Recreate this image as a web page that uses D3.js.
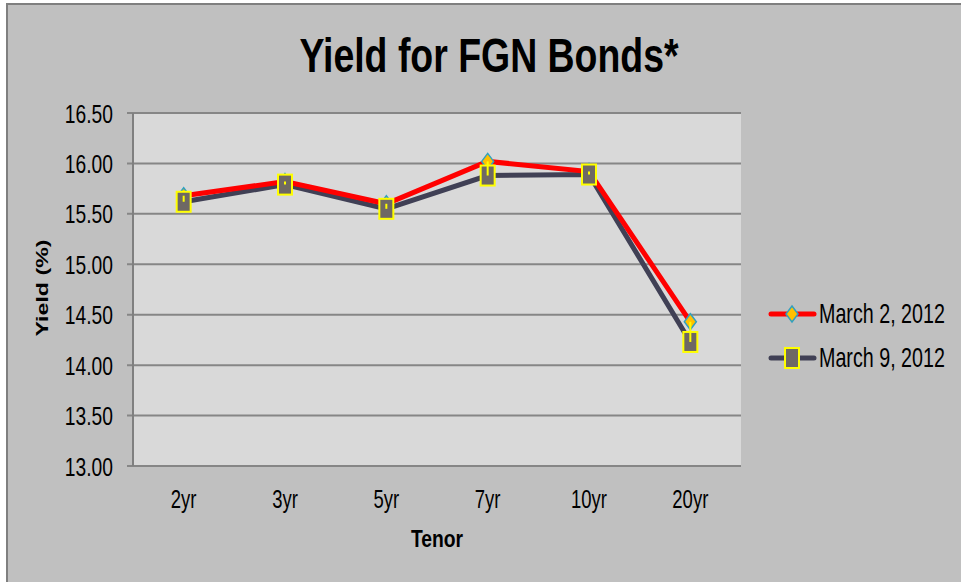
<!DOCTYPE html>
<html>
<head>
<meta charset="utf-8">
<script src="https://cdn.jsdelivr.net/npm/d3@7"></script>
<style>
  body { margin: 0; background: #fff; }
  text { font-family: "Liberation Sans Narrow", "Liberation Sans", Arial, sans-serif; fill: #000; }
</style>
</head>
<body>
<svg width="961" height="582"></svg>
<script>
var tenors = ['2yr', '3yr', '5yr', '7yr', '10yr', '20yr']
var march2 = [15.68, 15.82, 15.60, 16.02, 15.92, 14.43]
var march9 = [15.62, 15.79, 15.55, 15.88, 15.89, 14.23]
var yTicks = [13.00, 13.50, 14.00, 14.50, 15.00, 15.50, 16.00, 16.50]
var seriesNames = ['March 2, 2012', 'March 9, 2012']

var svg = d3.select('svg')

var plotL = 133, plotR = 741, plotT = 113, plotB = 466

var x = d3.scaleBand().domain(tenors).range([plotL, plotR])
var y = d3.scaleLinear().domain([13, 16.5]).range([plotB, plotT])
var cx = function (d, i) { return x(tenors[i]) + x.bandwidth() / 2 }

// chart area
svg.append('rect')
  .attr('x', 7).attr('y', 4).attr('width', 970).attr('height', 600)
  .attr('fill', '#c0c0c0').attr('stroke', '#7f7f7f').attr('stroke-width', 2)

svg.append('rect')
  .attr('x', plotL).attr('y', plotT).attr('width', plotR - plotL).attr('height', plotB - plotT)
  .attr('fill', '#d9d9d9')

// gridlines
svg.append('g').selectAll('line')
  .data(yTicks)
  .enter().append('line')
  .attr('x1', plotL - 6).attr('x2', plotR)
  .attr('y1', function (d) { return y(d) }).attr('y2', function (d) { return y(d) })
  .attr('stroke', '#868686').attr('stroke-width', 2)

svg.append('line')
  .attr('x1', plotL).attr('x2', plotL).attr('y1', plotT).attr('y2', plotB)
  .attr('stroke', '#808080').attr('stroke-width', 2)

svg.append('g').selectAll('text')
  .data(yTicks)
  .enter().append('text')
  .attr('transform', function (d) { return 'translate(' + (plotL - 20) + ',' + (y(d) + 9.5) + ') scale(0.74,1)' })
  .attr('text-anchor', 'end').attr('font-size', 26)
  .text(function (d) { return d3.format('.2f')(d) })

svg.append('g').selectAll('text')
  .data(tenors)
  .enter().append('text')
  .attr('transform', function (d) { return 'translate(' + (x(d) + x.bandwidth() / 2) + ',508) scale(0.74,1)' })
  .attr('text-anchor', 'middle').attr('font-size', 25)
  .text(function (d) { return d })

// titles
svg.append('text')
  .attr('transform', 'translate(489,72) scale(0.78,1)').attr('text-anchor', 'middle')
  .attr('font-size', 48).attr('font-weight', 'bold')
  .text('Yield for FGN Bonds*')

svg.append('text')
  .attr('transform', 'translate(437,547) scale(0.84,1)').attr('text-anchor', 'middle')
  .attr('font-size', 23).attr('font-weight', 'bold')
  .text('Tenor')

svg.append('text')
  .attr('transform', 'translate(48,288) rotate(-90) scale(1.45,1)').attr('text-anchor', 'middle')
  .attr('font-size', 16).attr('font-weight', 'bold')
  .text('Yield (%)')

// lines
var line = d3.line()
  .x(function (d, i) { return cx(d, i) })
  .y(function (d) { return y(d) })

svg.append('path').datum(march9).attr('d', line)
  .attr('fill', 'none').attr('stroke', '#404055').attr('stroke-width', 5)
svg.append('path').datum(march2).attr('d', line)
  .attr('fill', 'none').attr('stroke', '#ff0000').attr('stroke-width', 5)

function diamond (g, px, py) {
  g.append('path')
    .attr('d', 'M' + px + ',' + (py - 8) + 'L' + (px + 6) + ',' + py + 'L' + px + ',' + (py + 8) + 'L' + (px - 6) + ',' + py + 'Z')
    .attr('fill', '#ffc000').attr('stroke', '#31a0c0').attr('stroke-width', 1.5)
}
function square (g, px, py) {
  g.append('rect')
    .attr('x', px - 7).attr('y', py - 10).attr('width', 14).attr('height', 20)
    .attr('fill', '#6e6864').attr('stroke', '#ffff00').attr('stroke-width', 2)
}

var marks = svg.append('g')
march2.forEach(function (d, i) { diamond(marks, cx(d, i), y(d)) })
march9.forEach(function (d, i) { square(marks, cx(d, i), y(d)) })

// yellow hi-lo ticks
svg.append('g').selectAll('line')
  .data(march2)
  .enter().append('line')
  .attr('x1', cx).attr('x2', cx)
  .attr('y1', function (d) { return y(d) })
  .attr('y2', function (d, i) { return Math.max(y(march9[i]), y(d) + 3) })
  .attr('stroke', '#ffff00').attr('stroke-width', 2)

// legend
var legend = svg.append('g')
seriesNames.forEach(function (name, i) {
  var ly = 314 + i * 44
  legend.append('line')
    .attr('x1', 771).attr('x2', 814).attr('y1', ly).attr('y2', ly)
    .attr('stroke', i === 0 ? '#ff0000' : '#404055').attr('stroke-width', 5)
    .attr('stroke-linecap', 'round')
  if (i === 0) diamond(legend, 792, ly)
  else square(legend, 792, ly)
  legend.append('text')
    .attr('transform', 'translate(819,' + (ly + 9) + ') scale(0.73,1)').attr('font-size', 27)
    .text(name)
})
</script>
</body>
</html>
